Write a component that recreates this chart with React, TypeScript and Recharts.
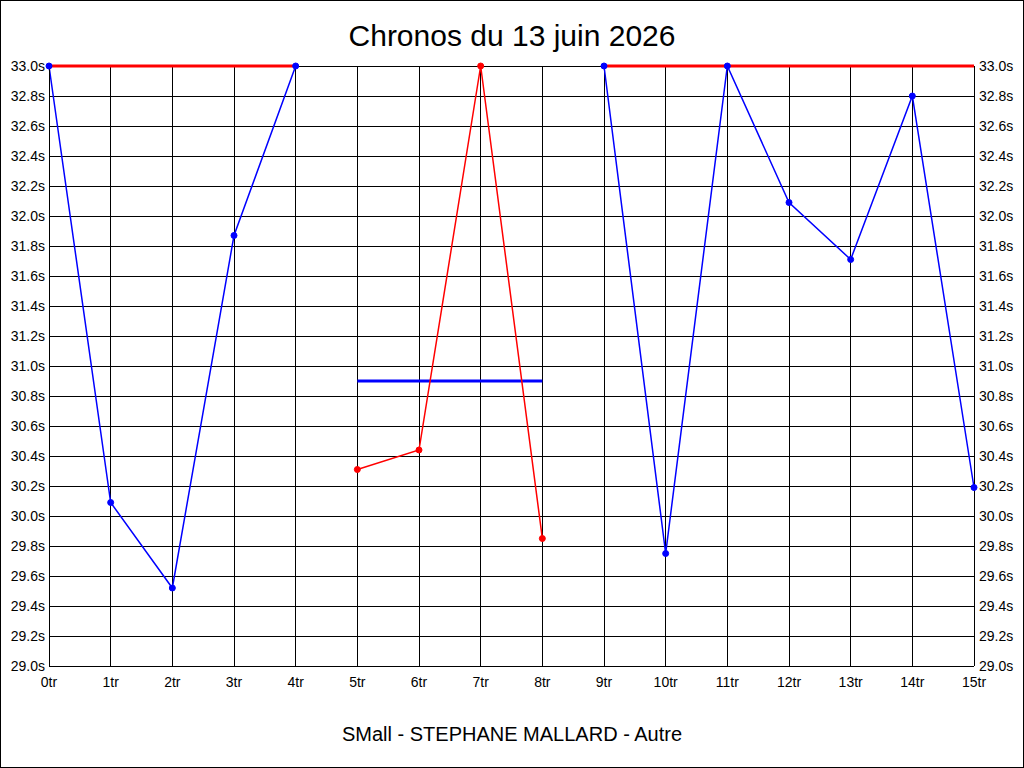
import React from 'react';
import { LineChart, Line, XAxis, YAxis, CartesianGrid } from 'recharts';

// lap index and the label drawn under it
const laps = [0, 1, 2, 3, 4, 5, 6, 7, 8, 9, 10, 11, 12, 13, 14, 15];
const lapLabels = ['0tr', '1tr', '2tr', '3tr', '4tr', '5tr', '6tr', '7tr', '8tr', '9tr', '10tr', '11tr', '12tr', '13tr', '14tr', '15tr'];

// lap times (s)
const blueTimes = [33.0, 30.09, 29.52, 31.87, 33.0, null, null, null, null, 33.0, 29.75, 33.0, 32.09, 31.71, 32.8, 30.19];
const redTimes = [null, null, null, null, null, 30.31, 30.44, 33.0, 29.85, null, null, null, null, null, null, null];

// horizontal levels
const redLevel = [33.0, 33.0, 33.0, 33.0, 33.0, null, null, null, null, 33.0, 33.0, 33.0, 33.0, 33.0, 33.0, 33.0];
const blueLevel = [null, null, null, null, null, 30.9, 30.9, 30.9, 30.9, null, null, null, null, null, null, null];

const timeTicks = [29.0, 29.2, 29.4, 29.6, 29.8, 30.0, 30.2, 30.4, 30.6, 30.8, 31.0, 31.2, 31.4, 31.6, 31.8, 32.0, 32.2, 32.4, 32.6, 32.8, 33.0];

const font = '"Liberation Sans", Arial, sans-serif';

const rows = laps.map((lap, i) => ({
  lap,
  blue: blueTimes[i],
  red: redTimes[i],
  redLevel: redLevel[i],
  blueLevel: blueLevel[i],
}));

const fmtTime = (v: number) => `${v.toFixed(1)}s`;
const fmtLap = (v: number) => lapLabels[v] ?? '';

const App: React.FC = () => {
  const tick = { fill: '#000', fontSize: 14, fontFamily: font };
  return (
    <div style={{ position: 'relative', width: 1024, height: 768, background: '#fff', fontFamily: font }}>
      <style>{'body{margin:0} .recharts-cartesian-grid line, .recharts-cartesian-axis-line{shape-rendering:crispEdges}'}</style>
      <div style={{ position: 'absolute', inset: 0, border: '1px solid #000', boxSizing: 'border-box', pointerEvents: 'none' }} />
      <div style={{ position: 'absolute', top: 21, left: 0, width: 1024, textAlign: 'center', fontSize: 30, lineHeight: '30px', color: '#000' }}>
        Chronos du 13 juin 2026
      </div>
      <LineChart width={1024} height={768} data={rows} margin={{ top: 66, right: 5, bottom: 62, left: 4 }}>
        <CartesianGrid stroke="#000" strokeWidth={1} yAxisId="left" />
        <XAxis
          dataKey="lap"
          type="number"
          domain={[0, 15]}
          ticks={laps}
          tickFormatter={fmtLap}
          interval={0}
          tick={tick}
          tickLine={false}
          tickSize={0}
          tickMargin={11}
          axisLine={{ stroke: '#000' }}
          height={40}
        />
        <YAxis
          yAxisId="left"
          domain={[29, 33]}
          ticks={timeTicks}
          tickFormatter={fmtTime}
          interval={0}
          tick={tick}
          tickLine={false}
          tickSize={0}
          tickMargin={4}
          axisLine={{ stroke: '#000' }}
          width={45}
        />
        <YAxis
          yAxisId="right"
          orientation="right"
          domain={[29, 33]}
          ticks={timeTicks}
          tickFormatter={fmtTime}
          interval={0}
          tick={{ ...tick, textAnchor: 'start' }}
          tickLine={false}
          tickSize={0}
          tickMargin={5}
          axisLine={{ stroke: '#000' }}
          width={45}
          allowDataOverflow
        />
        <Line yAxisId="left" dataKey="redLevel" stroke="#ff0000" strokeWidth={3} dot={false} activeDot={false} isAnimationActive={false} />
        <Line yAxisId="left" dataKey="blueLevel" stroke="#0000ff" strokeWidth={3} dot={false} activeDot={false} isAnimationActive={false} />
        <Line
          yAxisId="left"
          dataKey="blue"
          stroke="#0000ff"
          strokeWidth={1.5}
          dot={{ r: 3, fill: '#0000ff', stroke: '#0000ff', strokeWidth: 1 }}
          activeDot={false}
          isAnimationActive={false}
        />
        <Line
          yAxisId="left"
          dataKey="red"
          stroke="#ff0000"
          strokeWidth={1.5}
          dot={{ r: 3, fill: '#ff0000', stroke: '#ff0000', strokeWidth: 1 }}
          activeDot={false}
          isAnimationActive={false}
        />
      </LineChart>
      <div style={{ position: 'absolute', top: 724, left: 0, width: 1024, textAlign: 'center', fontSize: 20, lineHeight: '20px', color: '#000' }}>
        SMall - STEPHANE MALLARD - Autre
      </div>
    </div>
  );
};

export default App;
